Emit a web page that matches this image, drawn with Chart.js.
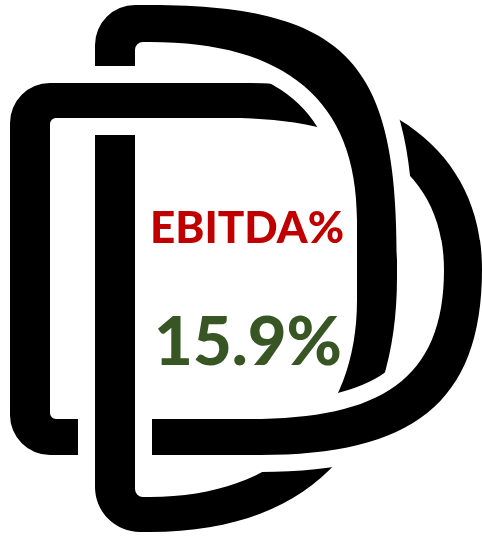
<!DOCTYPE html>
<html>
<head>
<meta charset="utf-8">
<title>EBITDA%</title>
<script src="https://cdn.jsdelivr.net/npm/chart.js@4.4.0/dist/chart.umd.min.js"></script>
<style>
  html, body { margin: 0; padding: 0; background: #ffffff; }
  #kpiChart { display: block; }
</style>
</head>
<body>
<canvas id="kpiChart" width="482" height="537"></canvas>
<script>
// KPI data
const kpiLabels = ['EBITDA%'];
const kpiValues = [15.9];
const kpiSuffix = ['%'];

const GAP = 17; // white gap where the two D's cross

// -------------------------------
// LOGO PATHS (two interlocked D's)
// -------------------------------
function frontOuter(ctx) {
  ctx.moveTo(50, 83);
  ctx.lineTo(250, 83);
  ctx.bezierCurveTo(385, 83, 482, 150, 482, 269);
  ctx.bezierCurveTo(482, 405, 410, 455, 260, 455);
  ctx.lineTo(50, 455);
  ctx.arcTo(10, 455, 10, 415, 40);
  ctx.lineTo(10, 123);
  ctx.arcTo(10, 83, 50, 83, 40);
  ctx.closePath();
}
function frontInner(ctx) {
  ctx.moveTo(56, 118);
  ctx.lineTo(230, 118);
  ctx.bezierCurveTo(350, 118, 444, 160, 444, 270);
  ctx.bezierCurveTo(444, 380, 380, 419, 250, 419);
  ctx.lineTo(56, 419);
  ctx.arcTo(50, 419, 50, 413, 6);
  ctx.lineTo(50, 124);
  ctx.arcTo(50, 118, 56, 118, 6);
  ctx.closePath();
}
function backOuter(ctx) {
  ctx.moveTo(135, 5);
  ctx.lineTo(150, 5);
  ctx.bezierCurveTo(355, 5, 397, 70, 397, 260);
  ctx.lineTo(397, 277);
  ctx.bezierCurveTo(397, 430, 320, 532, 150, 532);
  ctx.lineTo(140, 532);
  ctx.arcTo(95, 532, 95, 487, 45);
  ctx.lineTo(95, 45);
  ctx.arcTo(95, 5, 135, 5, 40);
  ctx.closePath();
}
function backInner(ctx) {
  ctx.moveTo(143, 42);
  ctx.lineTo(150, 42);
  ctx.bezierCurveTo(285, 42, 357, 100, 357, 220);
  ctx.lineTo(357, 300);
  ctx.bezierCurveTo(357, 420, 280, 497, 150, 497);
  ctx.lineTo(143, 497);
  ctx.arcTo(135, 497, 135, 489, 8);
  ctx.lineTo(135, 50);
  ctx.arcTo(135, 42, 143, 42, 8);
  ctx.closePath();
}

// halo in white, then the ring in black
function drawRing(ctx, outer, inner) {
  ctx.beginPath();
  outer(ctx);
  inner(ctx);
  ctx.lineJoin = 'round';
  ctx.lineWidth = GAP * 2;
  ctx.strokeStyle = '#ffffff';
  ctx.stroke();
  ctx.fillStyle = '#000000';
  ctx.fill('evenodd');
}

const logoPlugin = {
  id: 'logo',
  beforeDraw(chart) {
    const ctx = chart.ctx;
    ctx.save();
    drawRing(ctx, frontOuter, frontInner);
    drawRing(ctx, backOuter, backInner);
    // front D passes over the back D at top-left and lower-right
    [[55, 45, 140, 110], [240, 240, 242, 297]].forEach(r => {
      ctx.save();
      ctx.beginPath();
      ctx.rect(r[0], r[1], r[2], r[3]);
      ctx.clip();
      drawRing(ctx, frontOuter, frontInner);
      ctx.restore();
    });
    ctx.restore();
  },
  afterDraw(chart) {
    const ctx = chart.ctx;
    const label = chart.data.labels[0];
    const value = chart.data.datasets[0].data[0];
    ctx.save();
    ctx.textAlign = 'center';
    ctx.textBaseline = 'alphabetic';
    ctx.fillStyle = '#C00000';
    ctx.font = '900 44px Lato';
    ctx.fillText(label, 247, 243);
    ctx.fillStyle = '#375623';
    ctx.font = '900 67px Lato';
    ctx.fillText(value.toFixed(1) + kpiSuffix[0], 248, 365);
    ctx.restore();
  }
};

new Chart(document.getElementById('kpiChart'), {
  type: 'bar',
  data: {
    labels: kpiLabels,
    datasets: [{
      label: kpiLabels[0],
      data: kpiValues,
      hidden: true
    }]
  },
  options: {
    responsive: false,
    animation: false,
    events: [],
    layout: { padding: 0 },
    scales: {
      x: { display: false },
      y: { display: false }
    },
    plugins: {
      legend: { display: false },
      tooltip: { enabled: false }
    }
  },
  plugins: [logoPlugin]
});
</script>
</body>
</html>
